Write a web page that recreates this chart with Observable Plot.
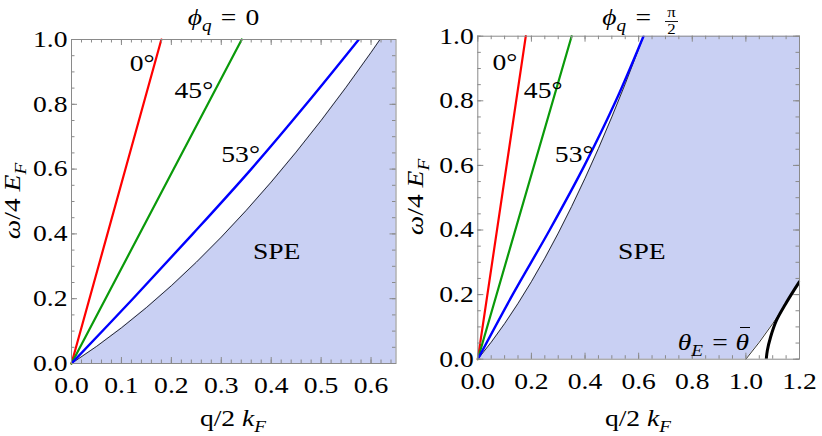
<!DOCTYPE html>
<html><head><meta charset="utf-8">
<script src="https://cdn.jsdelivr.net/npm/d3@7"></script>
<script src="https://cdn.jsdelivr.net/npm/@observablehq/plot@0.6"></script>
<style>
body{margin:0;background:#fff;}
#wrap{position:relative;width:822px;height:436px;overflow:hidden;}
#wrap svg{position:absolute;top:0;}
</style></head><body><div id="wrap"></div>
<script>
// ---------- data ----------
const leftXTicks = [0, 0.1, 0.2, 0.3, 0.4, 0.5, 0.6];
const rightXTicks = [0, 0.2, 0.4, 0.6, 0.8, 1.0, 1.2];
const yTicks = [0, 0.2, 0.4, 0.6, 0.8, 1.0];
const leftXMinor = d3.range(0, 0.651, 0.02);
const rightXMinor = d3.range(0, 1.201, 0.05);
const yMinor = d3.range(0, 1.001, 0.05);

const angleLabels = ["0°", "45°", "53°"];

// phi_q = 0
const leftRedX = [0, 0.180], leftRedY = [0, 1.0];
const leftGreenX = [0, 0.341], leftGreenY = [0, 1.0];
const leftBlueX = [0, 0.123, 0.243, 0.36, 0.47, 0.5755];
const leftBlueY = [0, 0.2, 0.4, 0.6, 0.8, 1.0];

// phi_q = pi/2
const rightRedX = [0, 0.179], rightRedY = [0, 1.0];
const rightGreenX = [0, 0.35], rightGreenY = [0, 1.0];
const rightBlueX = [0, 0.13, 0.268, 0.398, 0.515, 0.618];
const rightBlueY = [0, 0.2, 0.4, 0.6, 0.8, 1.0];
const thetaBarX = [1.076, 1.08, 1.092, 1.114, 1.148, 1.179, 1.2];
const thetaBarY = [0, 0.027, 0.068, 0.12, 0.171, 0.213, 0.24];

// single-particle excitation (SPE) continuum boundaries
const speUpperX = [0, 0.05, 0.1, 0.15, 0.2, 0.25, 0.3, 0.35, 0.4, 0.45, 0.5, 0.55, 0.6, 0.618];
const speUpperY = [0, 0.0525, 0.11, 0.1725, 0.24, 0.3125, 0.39, 0.4725, 0.56, 0.6525, 0.75, 0.8525, 0.96, 1.0];
const speLowerX = [1.0, 1.05, 1.1, 1.15, 1.2];
const speLowerY = [0, 0.0525, 0.11, 0.1725, 0.24];

// ---------- helpers ----------
const zip = (xs, ys) => xs.map((x, i) => ({x, y: ys[i]}));
function speRows(xMax) {
  const rows = [];
  speUpperX.forEach((x, i) => { if (x <= xMax) rows.push({x, y1: 0, y2: speUpperY[i]}); });
  const lower = speLowerX.map((x, i) => ({x, y: speLowerY[i]})).filter(d => d.x <= xMax);
  if (lower.length === 0) rows.push({x: xMax, y1: 0, y2: 1});
  else lower.forEach(d => rows.push({x: d.x, y1: d.y, y2: 1}));
  return rows;
}

const FONT = "'Liberation Serif', 'Times New Roman', serif";
const FS = 23;
const GRAY = "#8a8a8a";
const FILL = "#c9d0f3";
const STRETCH = 1.2;
const SP = "\u2004";

function panel(cfg) {
  const W = 411, H = 436;
  const innerW = W - cfg.ml - cfg.mr;
  const innerH = H - cfg.mt - cfg.mb;
  const lines = cfg.lines;
  const marks = [
    Plot.areaY(speRows(cfg.xMax), {x: "x", y1: "y1", y2: "y2", fill: FILL}),
    Plot.line(zip(speUpperX, speUpperY), {x: "x", y: "y", stroke: "black", strokeWidth: 0.8}),
    Plot.line(zip(speLowerX, speLowerY).filter(d => d.x <= cfg.xMax), {x: "x", y: "y", stroke: "black", strokeWidth: 0.8}),
    Plot.line(zip(lines.red[0], lines.red[1]), {x: "x", y: "y", stroke: "#ff0000", strokeWidth: 2.2}),
    Plot.line(zip(lines.green[0], lines.green[1]), {x: "x", y: "y", stroke: "#0a9a0a", strokeWidth: 2.2}),
    Plot.line(zip(lines.blue[0], lines.blue[1]), {x: "x", y: "y", stroke: "#0000ff", strokeWidth: 2.4, curve: "catmull-rom", clip: true}),
  ];
  if (cfg.extra) marks.push(...cfg.extra);
  marks.push(
    Plot.frame({stroke: GRAY, strokeWidth: 1}),
    // inward ticks on all four sides
    Plot.ruleX(cfg.xMinor, {stroke: GRAY, insetTop: innerH - 3.5}),
    Plot.ruleX(cfg.xMinor, {stroke: GRAY, insetBottom: innerH - 3.5}),
    Plot.ruleX(cfg.xTicks, {stroke: GRAY, insetTop: innerH - 6}),
    Plot.ruleX(cfg.xTicks, {stroke: GRAY, insetBottom: innerH - 6}),
    Plot.ruleY(yMinor, {stroke: GRAY, insetRight: innerW - 3.5}),
    Plot.ruleY(yMinor, {stroke: GRAY, insetLeft: innerW - 3.5}),
    Plot.ruleY(yTicks, {stroke: GRAY, insetRight: innerW - 6}),
    Plot.ruleY(yTicks, {stroke: GRAY, insetLeft: innerW - 6}),
    Plot.axisX(cfg.xTicks, {tickSize: 0, tickPadding: 13, tickFormat: d3.format(".1f"), fontSize: FS, label: null, fill: "black"}),
    Plot.axisY(yTicks, {tickSize: 0, tickPadding: 4, tickFormat: d3.format(".1f"), fontSize: FS, label: null, fill: "black"}),
    Plot.text(cfg.labels, {x: "x", y: "y", text: "t", fontSize: FS, fill: "black", textAnchor: "middle", lineAnchor: "middle"})
  );
  return Plot.plot({
    width: W, height: H,
    marginLeft: cfg.ml, marginRight: cfg.mr, marginTop: cfg.mt, marginBottom: cfg.mb,
    x: {domain: [0, cfg.xMax]},
    y: {domain: [0, 1]},
    style: {fontFamily: FONT, fontSize: FS + "px", background: "white", overflow: "visible"},
    marks
  });
}

const leftSvg = panel({
  xMax: 0.65, ml: 71, mr: 15.5, mt: 39, mb: 73,
  xTicks: leftXTicks, xMinor: leftXMinor,
  lines: {red: [leftRedX, leftRedY], green: [leftGreenX, leftGreenY], blue: [leftBlueX, leftBlueY]},
  labels: [
    {x: 0.1416, y: 0.925, t: angleLabels[0]},
    {x: 0.2451, y: 0.841, t: angleLabels[1]},
    {x: 0.3387, y: 0.646, t: angleLabels[2]},
    {x: 0.411, y: 0.345, t: "SPE"}
  ]
});

const rightSvg = panel({
  xMax: 1.2, ml: 66.3, mr: 23, mt: 35.7, mb: 77.3,
  xTicks: rightXTicks, xMinor: rightXMinor,
  lines: {red: [rightRedX, rightRedY], green: [rightGreenX, rightGreenY], blue: [rightBlueX, rightBlueY]},
  extra: [Plot.line(zip(thetaBarX, thetaBarY), {x: "x", y: "y", stroke: "black", strokeWidth: 3, curve: "catmull-rom", clip: true})],
  labels: [
    {x: 0.1007, y: 0.919, t: angleLabels[0]},
    {x: 0.2438, y: 0.832, t: angleLabels[1]},
    {x: 0.3594, y: 0.634, t: angleLabels[2]},
    {x: 0.612, y: 0.332, t: "SPE"}
  ]
});

const wrap = document.getElementById("wrap");
leftSvg.style.left = "0px";
rightSvg.style.left = "411px";
wrap.appendChild(leftSvg);
wrap.appendChild(rightSvg);

// ---------- titles & axis labels (rich text) ----------
function rich(svg, x, y, parts, opts = {}) {
  const t = d3.select(svg).append("text")
    .attr("font-family", FONT).attr("font-size", opts.size || FS).attr("fill", "black")
    .attr("text-anchor", opts.anchor || "middle");
  if (opts.rotate) t.attr("transform", `translate(${x},${y}) rotate(${opts.rotate})`);
  else t.attr("x", x).attr("y", y);
  let shift = 0;
  for (const p of parts) {
    const s = t.append("tspan").text(p.s);
    if (p.i) s.attr("font-style", "italic");
    const target = p.sub ? 6 : 0;
    if (target !== shift) { s.attr("dy", target - shift); shift = target; }
    if (p.sub) s.attr("font-size", 16);
  }
  return t;
}

rich(leftSvg, 223.5, 25, [{s: "ϕ", i: 1}, {s: "q", i: 1, sub: 1}, {s: SP + "=" + SP + "0"}]);
rich(rightSvg, 240, 24.5, [{s: "ϕ", i: 1}, {s: "q", i: 1, sub: 1}, {s: SP + "="}], {anchor: "end"});
rich(rightSvg, 260.5, 17, [{s: "π"}], {size: 14});
rich(rightSvg, 260.5, 34, [{s: "2"}], {size: 14});
d3.select(rightSvg).append("line").attr("x1", 254).attr("x2", 267).attr("y1", 21.5).attr("y2", 21.5)
  .attr("stroke", "black").attr("stroke-width", 0.9);

const yLab = [{s: "ω", i: 1}, {s: "/4 "}, {s: "E", i: 1}, {s: "F", i: 1, sub: 1}];
const xLab = [{s: "q/2 "}, {s: "k", i: 1}, {s: "F", i: 1, sub: 1}];
rich(leftSvg, 20, 201, yLab, {rotate: -90});
rich(rightSvg, 12, 197, yLab, {rotate: -90});
rich(leftSvg, 233, 426, xLab);
rich(rightSvg, 227, 426, xLab);
// theta_E = theta-bar
rich(rightSvg, 326, 350, [{s: "θ", i: 1}, {s: "E", i: 1, sub: 1}, {s: SP + "=" + SP}], {anchor: "end"});
rich(rightSvg, 338, 350, [{s: "θ", i: 1}], {anchor: "end"});
d3.select(rightSvg).append("line").attr("x1", 329).attr("x2", 339).attr("y1", 327.5).attr("y2", 327.5)
  .attr("stroke", "black").attr("stroke-width", 1);

// widen glyphs to match the reference's wider typeface
for (const svg of [leftSvg, rightSvg]) {
  svg.querySelectorAll("text").forEach(el => {
    const L = el.getComputedTextLength();
    if (L > 0) {
      el.setAttribute("textLength", (L * STRETCH).toFixed(2));
      el.setAttribute("lengthAdjust", "spacingAndGlyphs");
    }
  });
}
</script></body></html>
